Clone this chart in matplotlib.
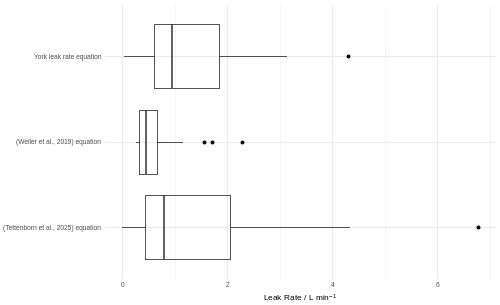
import matplotlib
matplotlib.use("Agg")
import matplotlib.pyplot as plt
from matplotlib.ticker import MultipleLocator

plt.rcParams['font.family'] = ['Liberation Sans', 'DejaVu Sans']
plt.rcParams['mathtext.fontset'] = 'custom'
plt.rcParams['mathtext.rm'] = 'Liberation Sans'
plt.rcParams['mathtext.it'] = 'Liberation Sans'

categories = ["(Tettenborn et al., 2025) equation", "(Weller et al., 2019) equation", "York leak rate equation"]
whislo = [0.0, 0.26, 0.04]
q1 = [0.43, 0.31, 0.61]
med = [0.80, 0.45, 0.95]
q3 = [2.06, 0.67, 1.84]
whishi = [4.32, 1.13, 3.11]
fliers = [[6.77], [1.55, 1.70, 2.28], [4.29]]
xticks = [0, 2, 4, 6]

fig = plt.figure(figsize=(5, 3.05), dpi=100)
ax = fig.add_axes([104.5/500, 1-278.6/305, (495.6-104.5)/500, (278.6-5)/305])

stats = []
for i, c in enumerate(categories):
    stats.append(dict(label=c, whislo=whislo[i], q1=q1[i], med=med[i], q3=q3[i], whishi=whishi[i], fliers=fliers[i]))

lc = '#333333'
ax.bxp(stats, positions=[1, 2, 3], widths=0.75, vert=False, showcaps=False,
       boxprops=dict(color=lc, linewidth=0.6),
       whiskerprops=dict(color=lc, linewidth=0.6),
       medianprops=dict(color=lc, linewidth=1.1),
       flierprops=dict(marker='o', markersize=1.8, markerfacecolor='black', markeredgecolor='black', linestyle='none'),
       zorder=3)

ax.set_ylim(0.4, 3.6)
ax.set_xlim(-0.3385, 7.1085)
ax.set_xticks(xticks)
ax.xaxis.set_minor_locator(MultipleLocator(1))
ax.set_yticks([1, 2, 3])
ax.set_yticklabels(categories)
for s in ax.spines.values():
    s.set_visible(False)
ax.grid(True, which='major', color='#EBEBEB', linewidth=0.8, zorder=0)
ax.grid(True, which='minor', axis='x', color='#F2F2F2', linewidth=0.5, zorder=0)
ax.set_axisbelow(True)
ax.tick_params(axis='both', which='both', length=0, labelsize=4.75, colors='#4D4D4D', pad=2.5)
ax.set_xlabel("Leak Rate / L min$^{-1}$", fontsize=6, color='black', labelpad=2.5)
fig.savefig("out.png", dpi=100, facecolor='white')
